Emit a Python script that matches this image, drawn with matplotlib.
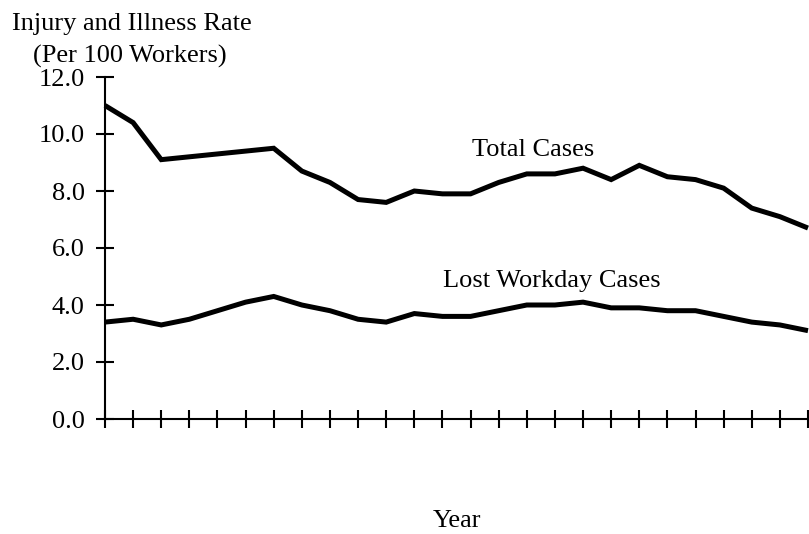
import matplotlib
matplotlib.use("Agg")
import matplotlib.pyplot as plt

years = list(range(1973, 1999))
total_cases = [11.0, 10.4, 9.1, 9.2, 9.3, 9.4, 9.5, 8.7, 8.3, 7.7, 7.6, 8.0, 7.9,
               7.9, 8.3, 8.6, 8.6, 8.8, 8.4, 8.9, 8.5, 8.4, 8.1, 7.4, 7.1, 6.7]
lost_workday = [3.4, 3.5, 3.3, 3.5, 3.8, 4.1, 4.3, 4.0, 3.8, 3.5, 3.4, 3.7, 3.6,
                3.6, 3.8, 4.0, 4.0, 4.1, 3.9, 3.9, 3.8, 3.8, 3.6, 3.4, 3.3, 3.1]
yticks = [0, 2, 4, 6, 8, 10, 12]
ytick_labels = ["0.0", "2.0", "4.0", "6.0", "8.0", "10.0", "12.0"]

plt.rcParams['font.family'] = ['Liberation Serif', 'DejaVu Serif']

W, H = 809, 534
fig = plt.figure(figsize=(W / 100, H / 100), dpi=100)
ax = fig.add_axes([105 / W, 1 - 419 / H, (808 - 105) / W, (419 - 77) / H])

for series in (total_cases, lost_workday):
    ax.plot(years, series, color='black', linewidth=3.6, clip_on=False,
            solid_joinstyle='miter', solid_capstyle='butt')

ax.set_xlim(years[0], years[-1])
ax.set_ylim(0, 12)
ax.set_xticks(years)
ax.set_xticklabels([])
ax.set_yticks(yticks)
ax.set_yticklabels(ytick_labels, fontsize=19)

for s in ('top', 'right'):
    ax.spines[s].set_visible(False)
for s in ('left', 'bottom'):
    ax.spines[s].set_linewidth(1.5)

ax.tick_params(axis='both', direction='inout', length=12.5, width=1.5, color='black')
ax.tick_params(axis='y', pad=8.4)

def px(x, y):
    return x / W, 1 - y / H

fig.text(*px(12, 30), "Injury and Illness Rate", fontsize=19, va='baseline', ha='left')
fig.text(*px(33, 63), "(Per 100 Workers)", fontsize=19, va='baseline', ha='left')
fig.text(*px(472, 156), "Total Cases", fontsize=19, va='baseline', ha='left')
fig.text(*px(443, 287), "Lost Workday Cases", fontsize=19, va='baseline', ha='left')
fig.text(*px(457, 527), "Year", fontsize=19, va='baseline', ha='center')

fig.savefig("out.png", dpi=100)
